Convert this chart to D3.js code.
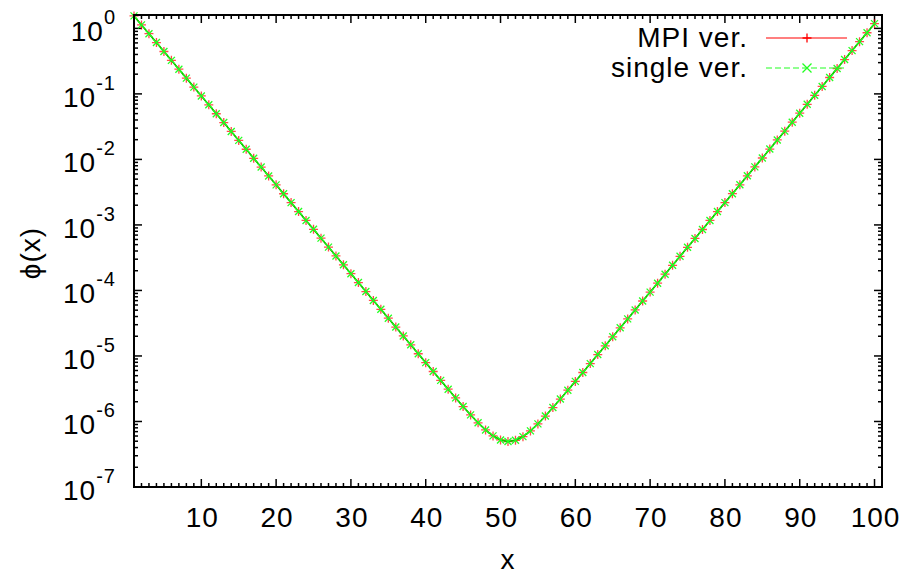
<!DOCTYPE html>
<html>
<head>
<meta charset="utf-8">
<script src="https://cdn.jsdelivr.net/npm/d3@7"></script>
<style>
  body { margin: 0; background: #fff; }
  text { font-family: "Liberation Sans", Arial, Helvetica, sans-serif; fill: #000; letter-spacing: 1px; }
</style>
</head>
<body>
<svg id="chart" width="922" height="575"></svg>
<script>
// grid points
var xValues = [1, 2, 3, 4, 5, 6, 7, 8, 9, 10, 11, 12, 13, 14, 15, 16, 17, 18, 19, 20,
    21, 22, 23, 24, 25, 26, 27, 28, 29, 30, 31, 32, 33, 34, 35, 36, 37, 38, 39, 40,
    41, 42, 43, 44, 45, 46, 47, 48, 49, 50, 51, 52, 53, 54, 55, 56, 57, 58, 59, 60,
    61, 62, 63, 64, 65, 66, 67, 68, 69, 70, 71, 72, 73, 74, 75, 76, 77, 78, 79, 80,
    81, 82, 83, 84, 85, 86, 87, 88, 89, 90, 91, 92, 93, 94, 95, 96, 97, 98, 99, 100];

// phi(x), MPI version
var mpiPhi = [1.55, 1.13, 0.829, 0.607, 0.444, 0.325, 0.238, 0.174, 0.127, 0.0931,
    0.0681, 0.0498, 0.0365, 0.0267, 0.0195, 0.0143, 0.0104, 7.64e-3, 5.59e-3, 4.09e-3,
    2.99e-3, 2.19e-3, 1.60e-3, 1.17e-3, 8.58e-4, 6.28e-4, 4.59e-4, 3.36e-4, 2.46e-4, 1.80e-4,
    1.32e-4, 9.62e-5, 7.04e-5, 5.15e-5, 3.77e-5, 2.76e-5, 2.02e-5, 1.48e-5, 1.08e-5, 7.91e-6,
    5.79e-6, 4.24e-6, 3.11e-6, 2.29e-6, 1.69e-6, 1.26e-6, 9.55e-7, 7.43e-7, 6.03e-7, 5.23e-7,
    4.95e-7, 5.16e-7, 5.87e-7, 7.18e-7, 9.19e-7, 1.21e-6, 1.63e-6, 2.20e-6, 3.00e-6, 4.09e-6,
    5.59e-6, 7.65e-6, 1.05e-5, 1.43e-5, 1.96e-5, 2.69e-5, 3.68e-5, 5.04e-5, 6.90e-5, 9.44e-5,
    1.29e-4, 1.77e-4, 2.42e-4, 3.32e-4, 4.55e-4, 6.22e-4, 8.52e-4, 1.17e-3, 1.60e-3, 2.19e-3,
    3.00e-3, 4.10e-3, 5.62e-3, 7.69e-3, 0.0105, 0.0144, 0.0198, 0.0270, 0.0370, 0.0507,
    0.0694, 0.0951, 0.130, 0.178, 0.244, 0.334, 0.458, 0.627, 0.858, 1.18];

// phi(x), single version (overlaps the MPI one)
var singlePhi = [1.55, 1.13, 0.829, 0.607, 0.444, 0.325, 0.238, 0.174, 0.127, 0.0931,
    0.0681, 0.0498, 0.0365, 0.0267, 0.0195, 0.0143, 0.0104, 7.64e-3, 5.59e-3, 4.09e-3,
    2.99e-3, 2.19e-3, 1.60e-3, 1.17e-3, 8.58e-4, 6.28e-4, 4.59e-4, 3.36e-4, 2.46e-4, 1.80e-4,
    1.32e-4, 9.62e-5, 7.04e-5, 5.15e-5, 3.77e-5, 2.76e-5, 2.02e-5, 1.48e-5, 1.08e-5, 7.91e-6,
    5.79e-6, 4.24e-6, 3.11e-6, 2.29e-6, 1.69e-6, 1.26e-6, 9.55e-7, 7.43e-7, 6.03e-7, 5.23e-7,
    4.95e-7, 5.16e-7, 5.87e-7, 7.18e-7, 9.19e-7, 1.21e-6, 1.63e-6, 2.20e-6, 3.00e-6, 4.09e-6,
    5.59e-6, 7.65e-6, 1.05e-5, 1.43e-5, 1.96e-5, 2.69e-5, 3.68e-5, 5.04e-5, 6.90e-5, 9.44e-5,
    1.29e-4, 1.77e-4, 2.42e-4, 3.32e-4, 4.55e-4, 6.22e-4, 8.52e-4, 1.17e-3, 1.60e-3, 2.19e-3,
    3.00e-3, 4.10e-3, 5.62e-3, 7.69e-3, 0.0105, 0.0144, 0.0198, 0.0270, 0.0370, 0.0507,
    0.0694, 0.0951, 0.130, 0.178, 0.244, 0.334, 0.458, 0.627, 0.858, 1.18];

var xTicks = [10, 20, 30, 40, 50, 60, 70, 80, 90, 100];
var yExponents = [-7, -6, -5, -4, -3, -2, -1, 0];
var seriesNames = ["MPI ver.", "single ver."];

var margin = {left: 134, right: 40, top: 15, bottom: 88};
var width = 922 - margin.left - margin.right;
var height = 575 - margin.top - margin.bottom;

var svg = d3.select("#chart");
var g = svg.append("g").attr("transform", "translate(" + margin.left + "," + margin.top + ")");

var x = d3.scaleLinear().domain([1, 101]).range([0, width]);
var y = d3.scaleLog().domain([1e-7, 1.6]).range([height, 0]);

// minor ticks
var xMinor = d3.range(2, 101).filter(function (v) { return v % 10 != 0; });
var yMinor = [];
yExponents.forEach(function (e) {
    for (var k = 2; k <= 9; k++) {
        var v = k * Math.pow(10, e);
        if (v < 1.6) yMinor.push(v);
    }
});

var ticks = g.append("g").attr("stroke", "#000").attr("stroke-width", 1.5);
xMinor.forEach(function (v) {
    ticks.append("line").attr("x1", x(v)).attr("x2", x(v)).attr("y1", height).attr("y2", height - 4);
    ticks.append("line").attr("x1", x(v)).attr("x2", x(v)).attr("y1", 0).attr("y2", 4);
});
xTicks.forEach(function (v) {
    ticks.append("line").attr("x1", x(v)).attr("x2", x(v)).attr("y1", height).attr("y2", height - 8);
    ticks.append("line").attr("x1", x(v)).attr("x2", x(v)).attr("y1", 0).attr("y2", 8);
});
yMinor.forEach(function (v) {
    ticks.append("line").attr("x1", 0).attr("x2", 4).attr("y1", y(v)).attr("y2", y(v));
    ticks.append("line").attr("x1", width).attr("x2", width - 4).attr("y1", y(v)).attr("y2", y(v));
});
yExponents.forEach(function (e) {
    var v = Math.pow(10, e);
    ticks.append("line").attr("x1", 0).attr("x2", 8).attr("y1", y(v)).attr("y2", y(v));
    ticks.append("line").attr("x1", width).attr("x2", width - 8).attr("y1", y(v)).attr("y2", y(v));
});

// tick labels
g.selectAll(".xlab").data(xTicks).enter().append("text")
    .attr("x", function (d) { return x(d) + 1; })
    .attr("y", height + 40)
    .attr("text-anchor", "middle")
    .attr("font-size", 28)
    .text(function (d) { return d; });

var ylab = g.selectAll(".ylab").data(yExponents).enter().append("text")
    .attr("x", -18)
    .attr("y", function (d) { return y(Math.pow(10, d)) + 13; })
    .attr("text-anchor", "end")
    .attr("font-size", 28);
ylab.append("tspan").text("10");
ylab.append("tspan").attr("font-size", 20).attr("dy", -17).text(function (d) { return d; });

// curves
var line = d3.line()
    .x(function (d, i) { return x(xValues[i]); })
    .y(function (d) { return y(d); });

g.append("path").datum(mpiPhi)
    .attr("fill", "none").attr("stroke", "#ff0000").attr("stroke-width", 1.2)
    .attr("d", line);
g.selectAll(".mpi").data(mpiPhi).enter().append("path")
    .attr("transform", function (d, i) { return "translate(" + x(xValues[i]) + "," + y(d) + ")"; })
    .attr("d", "M-4.5,0H4.5M0,-4.5V4.5")
    .attr("stroke", "#ff0000").attr("stroke-opacity", 0.7).attr("stroke-width", 1.3);

g.append("path").datum(singlePhi)
    .attr("fill", "none").attr("stroke", "#00d000").attr("stroke-width", 1.6)
    .attr("d", line);
g.selectAll(".single").data(singlePhi).enter().append("path")
    .attr("transform", function (d, i) { return "translate(" + x(xValues[i]) + "," + y(d) + ")"; })
    .attr("d", "M-3.5,-3.5L3.5,3.5M-3.5,3.5L3.5,-3.5")
    .attr("stroke", "#22ff22").attr("stroke-width", 1.3);

// border
g.append("rect").attr("width", width).attr("height", height)
    .attr("fill", "none").attr("stroke", "#000").attr("stroke-width", 2);

// axis titles
svg.append("text")
    .attr("transform", "translate(40,253) rotate(-90)")
    .attr("text-anchor", "middle")
    .attr("font-size", 28)
    .text("\u03d5(x)");
svg.append("text")
    .attr("x", 508).attr("y", 569)
    .attr("text-anchor", "middle")
    .attr("font-size", 28)
    .text("x");

// legend
var legend = svg.append("g");
var legY = [38, 68];
legend.selectAll("text").data(seriesNames).enter().append("text")
    .attr("x", 748)
    .attr("y", function (d, i) { return legY[i] + 9; })
    .attr("text-anchor", "end")
    .attr("font-size", 28)
    .text(function (d) { return d; });
legend.append("line").attr("x1", 766).attr("x2", 847).attr("y1", legY[0]).attr("y2", legY[0])
    .attr("stroke", "#ff0000").attr("stroke-width", 1.2);
legend.append("path").attr("transform", "translate(807," + legY[0] + ")")
    .attr("d", "M-4.5,0H4.5M0,-4.5V4.5").attr("stroke", "#ff0000").attr("stroke-width", 1.3);
legend.append("line").attr("x1", 766).attr("x2", 847).attr("y1", legY[1]).attr("y2", legY[1])
    .attr("stroke", "#22ff22").attr("stroke-width", 1.2).attr("stroke-dasharray", "6,3");
legend.append("path").attr("transform", "translate(807," + legY[1] + ")")
    .attr("d", "M-4.5,-4.5L4.5,4.5M-4.5,4.5L4.5,-4.5").attr("stroke", "#22ff22").attr("stroke-width", 1.3);
</script>
</body>
</html>
